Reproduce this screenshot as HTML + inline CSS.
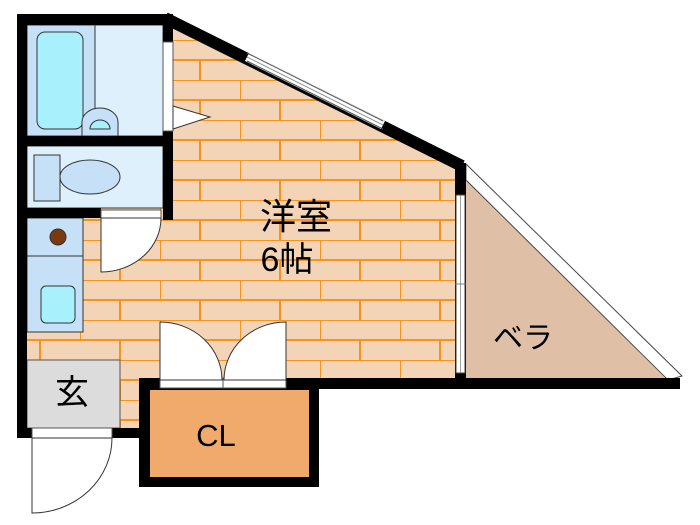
<!DOCTYPE html>
<html><head><meta charset="utf-8"><style>html,body{margin:0;padding:0;background:#fff;width:700px;height:525px;overflow:hidden}</style></head>
<body>
<svg width="700" height="525" viewBox="0 0 700 525" xmlns="http://www.w3.org/2000/svg" font-family="Liberation Sans, Noto Sans CJK JP, sans-serif">
<defs>
<pattern id="fl" patternUnits="userSpaceOnUse" x="0" y="0" width="80" height="40">
<rect width="80" height="40" fill="#f4d4b6"/>
<line x1="0" y1="0" x2="80" y2="0" stroke="#f7941d" stroke-width="2"/>
<line x1="0" y1="20" x2="80" y2="20" stroke="#f7941d" stroke-width="2"/>
<line x1="0" y1="0" x2="0" y2="20" stroke="#f7941d" stroke-width="2"/>
<line x1="40" y1="20" x2="40" y2="40" stroke="#f7941d" stroke-width="2"/>
</pattern>
</defs>
<polygon points="27,20 165,20 460,167 460,380 139,380 139,430 27,430" fill="url(#fl)"/>
<polygon points="466,180 667,380 466,380" fill="#dfc0a6"/>
<polygon points="466,164 682,376 668,380 466,180" fill="#fff" stroke="#444" stroke-width="1"/>
<rect x="27" y="25" width="136" height="111" fill="#ddf0fc" stroke="#333"/>
<rect x="27" y="25" width="68" height="111" fill="#c5e0f7" stroke="#333"/>
<rect x="37" y="32" width="46" height="97" rx="8" fill="#a8f0fc" stroke="#333"/>
<path d="M82,136 V122 A18,14 0 0 1 118,122 V136 Z" fill="#c5e0f7" stroke="#333"/>
<path d="M90,129 A10,9 0 0 1 110,129 Z" fill="#a8f0fc" stroke="#333"/>
<rect x="27" y="146" width="136" height="62" fill="#ddf0fc" stroke="#333"/>
<rect x="34" y="155" width="26" height="46" fill="#c5e0f7" stroke="#333"/>
<ellipse cx="90" cy="177" rx="30" ry="17" fill="#c5e0f7" stroke="#333"/>
<rect x="27" y="218" width="56" height="114" fill="#c5e0f7" stroke="#333"/>
<line x1="27" y1="256" x2="83" y2="256" stroke="#333"/>
<circle cx="58" cy="237" r="8" fill="#7a3a0f" stroke="#333"/>
<rect x="41" y="286" width="34" height="37" rx="5" fill="#a8f0fc" stroke="#333"/>
<rect x="27" y="360" width="93" height="68" fill="#dcdcdc" stroke="#555"/>
<text x="72" y="404" font-size="34" text-anchor="middle">玄</text>
<rect x="17" y="14" width="150" height="11" fill="#000"/>
<rect x="17" y="14" width="10" height="424" fill="#000"/>
<rect x="163" y="14" width="10" height="206" fill="#000"/>
<rect x="17" y="136" width="150" height="10" fill="#000"/>
<rect x="17" y="208" width="84" height="10" fill="#000"/>
<line x1="165" y1="18" x2="462" y2="166" stroke="#000" stroke-width="12"/>
<rect x="455" y="163" width="11" height="225" fill="#000"/>
<rect x="139" y="378" width="541" height="11" fill="#000"/>
<rect x="17" y="428" width="125" height="10" fill="#000"/>
<line x1="247" y1="57" x2="383" y2="125" stroke="#fff" stroke-width="9"/>
<line x1="247" y1="53" x2="383" y2="121" stroke="#444" stroke-width="1"/>
<line x1="247" y1="61" x2="383" y2="129" stroke="#444" stroke-width="1"/>
<line x1="247" y1="57" x2="383" y2="125" stroke="#888" stroke-width="0.8"/>
<rect x="456" y="195" width="9" height="178" fill="#fff" stroke="#444"/>
<line x1="460.5" y1="195" x2="460.5" y2="373" stroke="#888" stroke-width="0.8"/>
<line x1="455" y1="284" x2="466" y2="284" stroke="#666" stroke-width="0.8"/>
<rect x="163" y="42" width="10" height="89" fill="#fff" stroke="#555"/>
<polygon points="173,106 210,117 173,129" fill="#fff" stroke="#333"/>
<rect x="101" y="210" width="60" height="8" fill="#fff" stroke="#555"/>
<path d="M101,218 V272 A60,54 0 0 0 161,218 Z" fill="#fff" stroke="#333"/>
<rect x="139" y="380" width="180" height="107" fill="#000"/>
<rect x="150" y="390" width="159" height="87" fill="#f0aa6c"/>
<text x="216" y="446" font-size="31" text-anchor="middle">CL</text>
<rect x="160" y="378" width="126" height="10" fill="#fff" stroke="#555"/>
<line x1="223" y1="378" x2="223" y2="388" stroke="#555"/>
<path d="M160,380 V322 A62,58 0 0 1 222,380 Z" fill="#fff" stroke="#333"/>
<path d="M286,380 V322 A62,58 0 0 0 224,380 Z" fill="#fff" stroke="#333"/>
<rect x="32" y="428" width="80" height="10" fill="#fff" stroke="#555"/>
<path d="M32,438 V513 A80,75 0 0 0 112,438 Z" fill="#fff" stroke="#333"/>
<text x="296" y="229" font-size="36" text-anchor="middle">洋室</text>
<text x="287" y="271" font-size="34" text-anchor="middle">6帖</text>
<text x="523" y="348" font-size="30" text-anchor="middle">ベラ</text>
</svg>
</body></html>
